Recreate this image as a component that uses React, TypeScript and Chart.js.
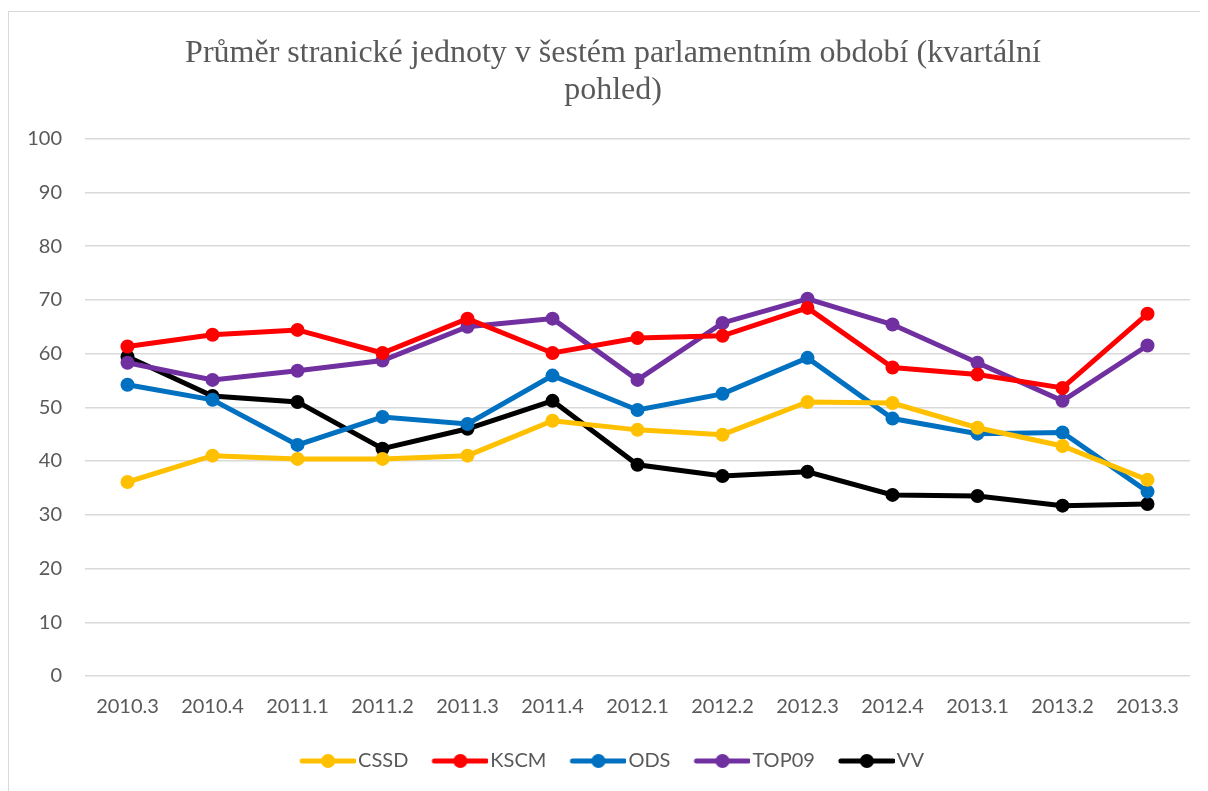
import React, { useEffect, useRef } from "react";
import { Chart, registerables } from "chart.js";

Chart.register(...registerables);

const categories = ["2010.3", "2010.4", "2011.1", "2011.2", "2011.3", "2011.4", "2012.1", "2012.2", "2012.3", "2012.4", "2013.1", "2013.2", "2013.3"];
const cssd = [36.1, 41.0, 40.4, 40.4, 41.0, 47.5, 45.8, 44.9, 51.0, 50.8, 46.2, 42.8, 36.5];
const kscm = [61.3, 63.5, 64.4, 60.1, 66.5, 60.1, 62.9, 63.3, 68.5, 57.4, 56.1, 53.6, 67.4];
const ods = [54.2, 51.4, 43.0, 48.2, 46.9, 55.9, 49.5, 52.5, 59.2, 47.9, 45.1, 45.3, 34.3];
const top09 = [58.3, 55.1, 56.8, 58.7, 65.0, 66.5, 55.1, 65.7, 70.2, 65.4, 58.3, 51.2, 61.5];
const vv = [59.4, 52.1, 51.0, 42.3, 46.0, 51.2, 39.3, 37.2, 38.0, 33.7, 33.5, 31.7, 32.0];
const seriesNames = ["CSSD", "KSCM", "ODS", "TOP09", "VV"];
const seriesColors = ["#FFC000", "#FF0000", "#0070C0", "#7030A0", "#000000"];
const titleLines = ["Průměr stranické jednoty v šestém parlamentním období (kvartální", "pohled)"];

const ICON_P = 46;

function legendIcon(color: string): HTMLCanvasElement {
  const c = document.createElement("canvas");
  c.width = ICON_P + 16;
  c.height = 18;
  const ctx = c.getContext("2d")!;
  const start = ICON_P - 40 + 2;
  const end = ICON_P + 16 - 2;
  ctx.strokeStyle = color;
  ctx.lineWidth = 5;
  ctx.lineCap = "round";
  ctx.beginPath();
  ctx.moveTo(start, 9);
  ctx.lineTo(end, 9);
  ctx.stroke();
  ctx.fillStyle = color;
  ctx.beginPath();
  ctx.arc((start + end) / 2, 9, 7, 0, Math.PI * 2);
  ctx.fill();
  return c;
}

const tickFont = { family: "Lato, 'Noto Sans', sans-serif", size: 20 };

export default function App() {
  const ref = useRef<HTMLCanvasElement | null>(null);
  useEffect(() => {
    document.body.style.overflow = "hidden";
    const data = [cssd, kscm, ods, top09, vv];
    const icons = seriesColors.map(legendIcon);
    const chart = new Chart(ref.current!, {
      type: "line",
      data: {
        labels: categories,
        datasets: seriesNames.map((name, i) => ({
          label: name,
          data: data[i],
          borderColor: seriesColors[i],
          backgroundColor: seriesColors[i],
          borderWidth: 5,
          pointRadius: 7,
          pointBorderWidth: 0,
          pointBackgroundColor: seriesColors[i],
          fill: false,
          tension: 0,
        })),
      },
      options: {
        animation: false,
        responsive: false,
        maintainAspectRatio: false,
        layout: { padding: { left: 0, right: 0, top: 0, bottom: 9 } },
        plugins: {
          title: {
            display: true,
            text: titleLines,
            color: "#595959",
            font: { family: "'Liberation Serif', 'DejaVu Serif', serif", size: 32, weight: "normal", lineHeight: 1.15 },
            padding: { top: 23, bottom: 30 },
          },
          legend: {
            position: "bottom",
            labels: {
              usePointStyle: true,
              pointStyleWidth: ICON_P,
              color: "#595959",
              font: tickFont,
              padding: 26,
              boxHeight: 18,
              generateLabels: (ch: any) =>
                ch.data.datasets.map((ds: any, i: number) => ({
                  text: ds.label,
                  fillStyle: seriesColors[i],
                  strokeStyle: seriesColors[i],
                  pointStyle: icons[i],
                  lineWidth: 0,
                  hidden: false,
                  datasetIndex: i,
                  fontColor: "#595959",
                })),
            },
          },
          tooltip: { enabled: false },
        },
        scales: {
          x: {
            offset: true,
            grid: { display: false, drawTicks: false },
            border: { display: false },
            afterFit: (s: any) => {
              s.height = 49;
            },
            ticks: {
              color: "#595959",
              font: tickFont,
              padding: 19,
              maxRotation: 0,
            },
          },
          y: {
            min: 0,
            max: 100,
            afterFit: (s: any) => {
              s.width = 76;
            },
            ticks: {
              stepSize: 10,
              color: "#595959",
              font: tickFont,
              padding: 23,
            },
            grid: { color: "#d9d9d9", lineWidth: 1.5, drawTicks: false },
            border: { display: false },
          },
          yRight: {
            position: "right",
            min: 0,
            max: 100,
            afterFit: (s: any) => {
              s.width = 27;
            },
            ticks: { display: false },
            grid: { display: false, drawTicks: false },
            border: { display: false },
          },
        },
      },
    });
    return () => chart.destroy();
  }, []);
  return (
    <div style={{ marginTop: 3, width: 1210, height: 790, border: "1px solid #d9d9d9", background: "#fff", boxSizing: "border-box" }}>
      <canvas ref={ref} width={1208} height={778} style={{ display: "block" }} />
    </div>
  );
}
